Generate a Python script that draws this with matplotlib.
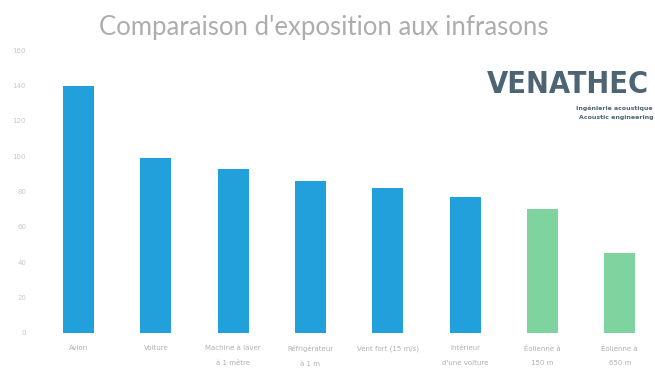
import matplotlib.pyplot as plt

# Exposure levels (dB) for each source
sources = ["Avion", "Voiture", "Machine à laver\nà 1 mètre", "Réfrigérateur\nà 1 m",
           "Vent fort (15 m/s)", "Intérieur\nd'une voiture", "Éolienne à\n150 m", "Éolienne à\n650 m"]
levels = [140, 99, 93, 86, 82, 77, 70, 45]
colors = ["#22a0dc"] * 6 + ["#7fd39e"] * 2
yticks = [0, 20, 40, 60, 80, 100, 120, 140, 160]

fig = plt.figure(figsize=(6.55, 3.72), dpi=100)
ax = fig.add_axes([0.061, 0.105, 0.95, 0.76])

ax.bar(range(len(levels)), levels, width=0.4, color=colors)
ax.set_xlim(-0.5, 7.55)
ax.set_ylim(0, 160)
ax.set_yticks(yticks)
ax.set_yticklabels([str(v) for v in yticks], fontsize=5, color="#c8c8c8")
ax.set_xticks(range(len(levels)))
ax.set_xticklabels(sources, fontsize=5, color="#b0b0b0", linespacing=2.7)
ax.tick_params(length=0, pad=10)
ax.tick_params(axis="x", pad=9)
for s in ax.spines.values():
    s.set_visible(False)

fig.text(0.494, 0.925, "Comparaison d'exposition aux infrasons", ha="center", va="center",
         fontsize=18.5, color="#adadad", family="Lato", fontweight="normal")

# logo
fig.text(0.743, 0.772, "VENATHEC", fontsize=22, fontweight="bold", color="#4d6473",
         family="DejaVu Sans", fontstretch="condensed", ha="left", va="center")
fig.text(0.997, 0.71, "Ingénierie acoustique", fontsize=4.5, color="#4d6473",
         fontweight="bold", ha="right", va="center")
fig.text(0.997, 0.683, "Acoustic engineering", fontsize=4.5, color="#4d6473",
         fontweight="bold", ha="right", va="center")

fig.savefig("out.png", dpi=100, facecolor="white")
